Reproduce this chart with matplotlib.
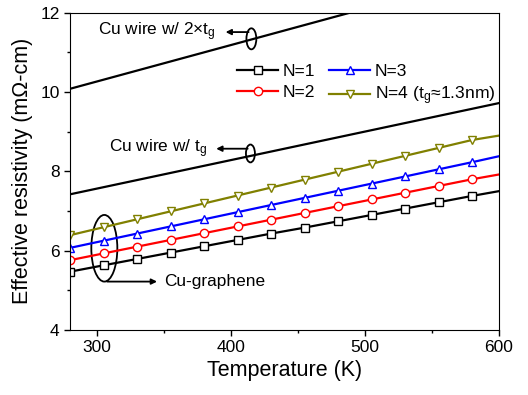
import numpy as np
import matplotlib
matplotlib.use('Agg')
import matplotlib.pyplot as plt
from matplotlib.patches import Ellipse
from matplotlib.ticker import MultipleLocator

plt.rcParams['font.family'] = ['Liberation Sans', 'DejaVu Sans']
plt.rcParams['mathtext.fontset'] = 'custom'
plt.rcParams['mathtext.rm'] = 'Liberation Sans'
plt.rcParams['mathtext.it'] = 'Liberation Sans:italic'

# temperature points (K), markers on all but the last one
temp = [280, 305, 330, 355, 380, 405, 430, 455, 480, 505, 530, 555, 580, 600]

# Cu-graphene effective resistivity (mOhm-cm)
rho_n1 = [5.47, 5.63, 5.79, 5.95, 6.11, 6.27, 6.43, 6.58, 6.74, 6.90, 7.06, 7.22, 7.38, 7.50]
rho_n2 = [5.76, 5.93, 6.10, 6.27, 6.44, 6.61, 6.78, 6.95, 7.12, 7.29, 7.46, 7.63, 7.80, 7.92]
rho_n3 = [6.07, 6.25, 6.43, 6.61, 6.79, 6.97, 7.15, 7.33, 7.51, 7.69, 7.87, 8.05, 8.23, 8.38]
rho_n4 = [6.39, 6.59, 6.79, 6.99, 7.19, 7.39, 7.59, 7.79, 7.99, 8.19, 8.39, 8.59, 8.79, 8.90]

# plain Cu wire
wire_temp = [280, 600]
rho_wire_tg = [7.42, 9.72]
rho_wire_2tg = [10.08, 13.02]

series = [
    (rho_n1, 'N=1', 'black', 's'),
    (rho_n2, 'N=2', 'red', 'o'),
    (rho_n3, 'N=3', 'blue', '^'),
    (rho_n4, r'N=4 (t$_\mathrm{g}$≈1.3nm)', '#808000', 'v'),
]

fig = plt.figure(figsize=(5.28, 3.95), dpi=100)
ax = fig.add_axes([0.1326, 0.1646, 0.8124, 0.8034])

ax.plot(wire_temp, rho_wire_tg, color='black', lw=1.6)
ax.plot(wire_temp, rho_wire_2tg, color='black', lw=1.6)

for vals, lab, col, mk in series:
    ax.plot(temp, vals, color=col, lw=1.6, marker=mk, ms=6, mfc='white',
            mec=col, mew=1.0, markevery=list(range(len(temp) - 1)), label=lab)

ax.set_xlim(280, 600)
ax.set_ylim(4, 12)
ax.xaxis.set_major_locator(MultipleLocator(100))
ax.xaxis.set_minor_locator(MultipleLocator(50))
ax.yaxis.set_major_locator(MultipleLocator(2))
ax.yaxis.set_minor_locator(MultipleLocator(1))
ax.tick_params(which='major', direction='out', length=4, width=1, labelsize=12.5)
ax.tick_params(which='minor', direction='out', length=2, width=1)
ax.set_xlabel('Temperature (K)', fontsize=15.5, labelpad=3)
ax.set_ylabel('Effective resistivity (mΩ-cm)', fontsize=15.5, labelpad=5)

ax.legend(ncol=2, loc='upper left', bbox_to_anchor=(0.37, 0.865), frameon=False,
          fontsize=12.6, handlelength=2.3, handletextpad=0.3, columnspacing=0.8,
          labelspacing=0.3, borderpad=0)

# annotations
ax.add_patch(Ellipse((415.3, 11.34), 7.4, 0.53, fill=False, lw=1.3, ec='black'))
ax.annotate('', xy=(394, 11.51), xytext=(415.3, 11.51),
            arrowprops=dict(arrowstyle='-|>', color='black', lw=1.3, mutation_scale=8))
ax.text(389, 11.51, r'Cu wire w/ 2×t$_\mathrm{g}$', ha='right', va='center', fontsize=12.4)

ax.add_patch(Ellipse((414.6, 8.45), 6.7, 0.45, fill=False, lw=1.3, ec='black'))
ax.annotate('', xy=(387, 8.57), xytext=(414.6, 8.57),
            arrowprops=dict(arrowstyle='-|>', color='black', lw=1.3, mutation_scale=8))
ax.text(382, 8.57, r'Cu wire w/ t$_\mathrm{g}$', ha='right', va='center', fontsize=12.4)

ax.add_patch(Ellipse((305.6, 6.06), 19.4, 1.68, fill=False, lw=1.3, ec='black'))
ax.annotate('', xy=(347, 5.22), xytext=(305.6, 5.22),
            arrowprops=dict(arrowstyle='-|>', color='black', lw=1.3, mutation_scale=8))
ax.text(350, 5.22, 'Cu-graphene', ha='left', va='center', fontsize=12.4)

fig.savefig('out.png', dpi=100)
